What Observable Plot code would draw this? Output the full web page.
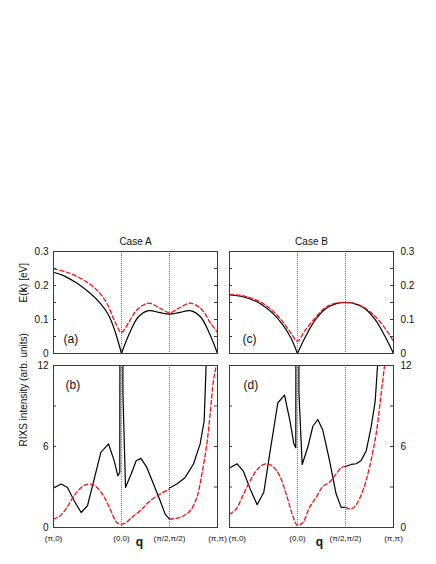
<!DOCTYPE html>
<html><head><meta charset="utf-8">
<script src="https://cdn.jsdelivr.net/npm/d3@7"></script>
<script src="https://cdn.jsdelivr.net/npm/@observablehq/plot@0.6"></script>
<style>
body{margin:0;background:#fff;}
#chart{position:relative;width:436px;height:564px;background:#fff;overflow:hidden;}
</style></head><body><div id="chart"></div><script>
// path coordinate q: (π,0)=0, (0,0)=1, (π/2,π/2)=1+1/√2, (π,π)=1+√2 (in units of π)
const qTicks = [0, 1, 1.7071, 2.4142];
const qTickLabels = ["(π,0)", "(0,0)", "(π/2,π/2)", "(π,π)"];
const energyTicks = [0, 0.1, 0.2, 0.3];
const energyMinor = [0, 0.05, 0.1, 0.15, 0.2, 0.25, 0.3];
const rixsTicks = [0, 6, 12];
const rixsMinor = [0, 3, 6, 9, 12];
const titles = ["Case A", "Case B"];
const panelLetters = ["(a)", "(b)", "(c)", "(d)"];

// Case A, E(k): solid (segments) and dashed
const caseA_E_solid = [
  [[0,0.239],[0.147,0.229],[0.343,0.207],[0.540,0.177],[0.687,0.148],[0.810,0.113],[0.908,0.064],[1.0,0.0]],
  [[1.0,0.0],[1.129,0.064],[1.251,0.108],[1.400,0.126],[1.570,0.120],[1.7071,0.116],[1.844,0.120],[2.014,0.126],[2.163,0.108],[2.285,0.064],[2.4142,0.0]]
];
const caseA_E_dashed = [
  [[0,0.249],[0.196,0.239],[0.442,0.216],[0.638,0.187],[0.785,0.148],[0.908,0.092],[1.0,0.062],[1.104,0.090],[1.227,0.128],[1.398,0.148],[1.570,0.133],[1.7071,0.120],[1.844,0.133],[2.016,0.148],[2.187,0.128],[2.310,0.090],[2.4142,0.062]]
];
// Case B, E(k)
const caseB_E_solid = [
  [[0,0.172],[0.196,0.167],[0.442,0.148],[0.638,0.118],[0.785,0.084],[0.908,0.044],[1.0,0.0]],
  [[1.0,0.0],[1.12,0.050],[1.26,0.098],[1.41,0.131],[1.56,0.146],[1.7071,0.150],[1.85,0.146],[2.0,0.131],[2.15,0.098],[2.29,0.050],[2.4142,0.0]]
];
const caseB_E_dashed = [
  [[0,0.174],[0.196,0.170],[0.442,0.153],[0.638,0.125],[0.785,0.093],[0.908,0.059],[1.0,0.036],[1.10,0.064],[1.26,0.105],[1.41,0.135],[1.56,0.148],[1.7071,0.150],[1.85,0.147],[2.0,0.133],[2.15,0.108],[2.29,0.074],[2.4142,0.036]]
];
// Case A, RIXS intensity
const caseA_I_solid = [
  [[0,2.92],[0.113,3.22],[0.206,2.97],[0.304,1.98],[0.407,1.11],[0.500,1.61],[0.599,3.59],[0.697,5.57],[0.810,6.19],[0.893,4.95],[0.947,3.83],[0.976,4.08],[0.992,80],[1.004,80],[1.022,10],[1.060,2.97],[1.143,3.96],[1.217,4.95],[1.286,5.12],[1.374,4.45],[1.472,3.22],[1.570,1.98],[1.644,0.99],[1.7071,0.62]],
  [[1.7071,2.92],[1.816,3.22],[1.938,3.71],[2.061,4.70],[2.159,6.19],[2.218,7.90],[2.257,13.5]]
];
const caseA_I_dashed = [
  [[0,0.62],[0.098,0.87],[0.196,1.48],[0.319,2.47],[0.442,3.09],[0.540,3.22],[0.638,2.97],[0.736,2.35],[0.834,1.36],[0.932,0.37],[1.0,0.25],[1.055,0.32],[1.153,0.74],[1.276,1.24],[1.423,1.98],[1.570,2.47],[1.7071,2.85]],
  [[1.7071,0.62],[1.816,0.69],[1.914,0.87],[2.012,1.24],[2.110,2.23],[2.184,3.96],[2.257,6.19],[2.306,8.41],[2.355,10.9],[2.385,11.7],[2.4142,12.3]]
];
// Case B, RIXS intensity
const caseB_I_solid = [
  [[0,4.40],[0.113,4.72],[0.206,4.15],[0.304,2.86],[0.407,1.69],[0.505,2.61],[0.604,5.84],[0.712,9.24],[0.810,9.81],[0.893,7.82],[0.947,6.21],[0.976,5.91],[0.992,80],[1.004,80],[1.022,10],[1.070,4.67],[1.153,5.96],[1.227,7.50],[1.300,8.00],[1.374,7.20],[1.472,4.97],[1.570,2.48],[1.644,1.49],[1.7071,1.49]],
  [[1.7071,4.52],[1.791,4.67],[1.865,4.72],[1.938,4.97],[2.012,5.66],[2.085,7.45],[2.144,9.32],[2.185,12.4],[2.20,14]]
];
const caseB_I_dashed = [
  [[0,0.99],[0.098,1.37],[0.196,2.36],[0.319,3.60],[0.442,4.47],[0.540,4.72],[0.638,4.52],[0.736,3.85],[0.834,2.48],[0.932,0.87],[1.0,0.15],[1.080,0.37],[1.178,1.49],[1.276,2.24],[1.374,3.03],[1.472,3.35],[1.570,3.97],[1.644,4.42],[1.7071,4.52]],
  [[1.7071,1.49],[1.791,1.37],[1.865,1.69],[1.963,2.73],[2.061,4.47],[2.159,6.96],[2.233,9.94],[2.282,12.0],[2.31,13.5]]
];

const FONT = '"Liberation Sans", Arial, Helvetica, sans-serif';
const FRAME = "#3a3a3a";

function flat(segs) {
  const out = [];
  segs.forEach((s, i) => s.forEach(([q, v]) => out.push({q, v, seg: i})));
  return out;
}

function panel(o) {
  const fw = o.width - o.ml - o.mr;
  const marks = [
    Plot.ruleX(qTicks.slice(1, 3), {stroke: "#5a5aff", strokeWidth: 1, strokeDasharray: "1,1"}),
    Plot.line(flat(o.solid), {x: "q", y: "v", z: "seg", stroke: "#000", strokeWidth: 1.2, curve: o.solidCurve, clip: true}),
    Plot.line(flat(o.dashed), {x: "q", y: "v", z: "seg", stroke: "#f01010", strokeWidth: 1.3, strokeDasharray: "4,2.6", curve: "catmull-rom", clip: true}),
    Plot.frame({stroke: FRAME, strokeWidth: 1}),
    Plot.tickY(o.minor, {y: d => d, insetRight: fw - 3, stroke: FRAME}),
    Plot.tickY(o.minor, {y: d => d, insetLeft: fw - 3, stroke: FRAME}),
    Plot.axisY({anchor: o.side, ticks: o.major, tickFormat: d => String(d), tickSize: 0, tickPadding: o.side === "left" ? 5 : 7, fontSize: 10, label: null, stroke: FRAME}),
    Plot.text([o.letter], {frameAnchor: o.letterAnchor, textAnchor: "start", lineAnchor: "middle", dx: o.letterDx, dy: o.letterDy, fontSize: 12})
  ];
  if (o.title) marks.push(Plot.text([o.title], {frameAnchor: "top", lineAnchor: "middle", dy: -10, fontSize: 10}));
  if (o.yTitle) marks.push(Plot.text([o.yTitle], {frameAnchor: "left", rotate: -90, lineAnchor: "middle", dx: -30, fontSize: 10}));
  if (o.xAxis) {
    const fmt = d => qTickLabels[qTicks.indexOf(d)];
    if (o.firstStart) {
      marks.push(Plot.axisX({anchor: "bottom", ticks: qTicks.slice(0, 1), tickFormat: fmt, tickSize: 0, tickPadding: 8, fontSize: 8, label: null, textAnchor: "start", dx: -1}));
      marks.push(Plot.axisX({anchor: "bottom", ticks: qTicks.slice(1), tickFormat: fmt, tickSize: 0, tickPadding: 8, fontSize: 8, label: null}));
    } else {
      marks.push(Plot.axisX({anchor: "bottom", ticks: qTicks, tickFormat: fmt, tickSize: 0, tickPadding: 8, fontSize: 8, label: null}));
    }
    marks.push(Plot.text(["q"], {frameAnchor: "bottom", lineAnchor: "middle", dx: o.qDx, dy: 15, fontSize: 12, fontWeight: "bold"}));
  }
  const svg = Plot.plot({
    width: o.width, height: o.height,
    marginLeft: o.ml, marginRight: o.mr, marginTop: o.mt, marginBottom: o.mb,
    x: {domain: [0, qTicks[3]], axis: o.xAxis ? undefined : null},
    y: {domain: o.yDomain},
    marks
  });
  Object.assign(svg.style, {position: "absolute", left: o.left + "px", top: o.top + "px", background: "none", overflow: "visible", maxWidth: "none", fontFamily: FONT, fontSize: "10px", color: "#111"});
  if (o.boldK) {
    svg.querySelectorAll("text").forEach(t => {
      if (t.textContent === o.yTitle) {
        t.innerHTML = 'E(<tspan font-weight="bold">k</tspan>) [eV]';
      }
    });
  }
  document.getElementById("chart").appendChild(svg);
}

const topCommon = {top: 225, height: 134, mt: 26, mb: 6, yDomain: [0, 0.3], major: energyTicks, minor: energyMinor, solidCurve: "catmull-rom", letterAnchor: "bottom-left", letterDy: -14};
const botCommon = {top: 359, height: 205, mt: 6, mb: 37, yDomain: [0, 12], major: rixsTicks, minor: rixsMinor, solidCurve: "linear", letterAnchor: "top-left", letterDy: 20, xAxis: true};

panel({...topCommon, left: 0, width: 224, ml: 53, mr: 7, side: "left", solid: caseA_E_solid, dashed: caseA_E_dashed, letter: panelLetters[0], letterDx: 10, title: titles[0], yTitle: "E(k) [eV]", boldK: true});
panel({...topCommon, left: 224, width: 212, ml: 5, mr: 43, side: "right", solid: caseB_E_solid, dashed: caseB_E_dashed, letter: panelLetters[2], letterDx: 13, title: titles[1]});
panel({...botCommon, left: 0, width: 224, ml: 53, mr: 7, side: "left", solid: caseA_I_solid, dashed: caseA_I_dashed, letter: panelLetters[1], letterDx: 12, yTitle: "RIXS intensity (arb. units)", qDx: 4});
panel({...botCommon, left: 224, width: 212, ml: 5, mr: 43, side: "right", solid: caseB_I_solid, dashed: caseB_I_dashed, letter: panelLetters[3], letterDx: 14, qDx: 8, firstStart: true});
</script></body></html>
